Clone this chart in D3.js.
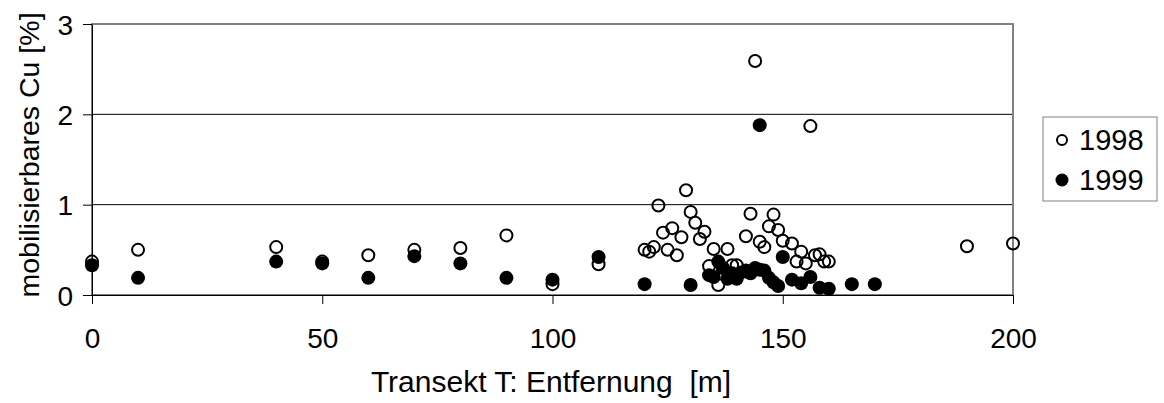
<!DOCTYPE html>
<html>
<head>
<meta charset="utf-8">
<script src="https://cdn.jsdelivr.net/npm/d3@7"></script>
<style>
  html, body { margin: 0; padding: 0; background: #fff; }
  svg { display: block; font-family: "Liberation Sans", Arial, sans-serif; }
</style>
</head>
<body>
<svg id="chart" width="1164" height="403"></svg>
<script>
// Transect distance [m] and mobilisable Cu [%], per sampling year
const dist1998 = [0, 10, 40, 50, 60, 70, 80, 90, 100, 110,
  120, 121, 122, 123, 124, 125, 126, 127, 128, 129, 130, 131, 132, 133, 134, 135, 136, 137, 138, 139, 140,
  142, 143, 144, 145, 146, 147, 148, 149, 150, 152, 153, 154, 155, 156, 157, 158, 159, 160, 190, 200];
const cu1998 = [0.37, 0.50, 0.53, 0.37, 0.44, 0.50, 0.52, 0.66, 0.12, 0.34,
  0.50, 0.48, 0.53, 0.99, 0.69, 0.50, 0.74, 0.44, 0.64, 1.16, 0.92, 0.80, 0.62, 0.70, 0.32, 0.51, 0.11, 0.30, 0.51, 0.33, 0.33,
  0.65, 0.90, 2.59, 0.59, 0.53, 0.76, 0.89, 0.72, 0.60, 0.57, 0.37, 0.48, 0.35, 1.87, 0.44, 0.45, 0.37, 0.37, 0.54, 0.57];

const dist1999 = [0, 10, 40, 50, 60, 70, 80, 90, 100, 110,
  120, 130, 134, 135, 136, 137, 138, 139, 140, 141, 142, 143, 144, 145, 145, 146, 147, 148, 149, 150,
  152, 154, 156, 158, 160, 165, 170];
const cu1999 = [0.33, 0.19, 0.37, 0.35, 0.19, 0.43, 0.35, 0.19, 0.17, 0.42,
  0.12, 0.11, 0.22, 0.20, 0.37, 0.30, 0.18, 0.24, 0.18, 0.25, 0.27, 0.24, 0.30, 1.88, 0.28, 0.27, 0.19, 0.14, 0.10, 0.42,
  0.17, 0.13, 0.20, 0.08, 0.07, 0.12, 0.12];

const xTicks = [0, 50, 100, 150, 200];
const yTicks = [0, 1, 2, 3];
const seriesNames = ["1998", "1999"];

const svg = d3.select("#chart");
const plotLeft = 92, plotRight = 1013, plotTop = 24, plotBottom = 295;

const x = d3.scaleLinear().domain([0, 200]).range([plotLeft, plotRight]);
const y = d3.scaleLinear().domain([0, 3]).range([plotBottom, plotTop]);

// gridlines at the inner y ticks
svg.append("g")
  .selectAll("line")
  .data(yTicks.filter(d => d > 0 && d < 3))
  .join("line")
  .attr("x1", plotLeft).attr("x2", plotRight)
  .attr("y1", d => y(d)).attr("y2", d => y(d))
  .attr("stroke", "#000").attr("stroke-width", 1);

// plot area frame
svg.append("rect")
  .attr("x", plotLeft).attr("y", plotTop)
  .attr("width", plotRight - plotLeft).attr("height", plotBottom - plotTop)
  .attr("fill", "none").attr("stroke", "#808080").attr("stroke-width", 2);

// axes
const xAxis = svg.append("g")
  .attr("transform", `translate(0,${plotBottom})`)
  .call(d3.axisBottom(x).tickValues(xTicks).tickFormat(d3.format("d"))
    .tickSize(9).tickSizeOuter(0).tickPadding(24));
const yAxis = svg.append("g")
  .attr("transform", `translate(${plotLeft},0)`)
  .call(d3.axisLeft(y).tickValues(yTicks).tickFormat(d3.format("d"))
    .tickSize(9).tickSizeOuter(0).tickPadding(10));

[xAxis, yAxis].forEach(g => {
  g.select(".domain").attr("stroke", "#000").attr("stroke-width", 1);
  g.selectAll(".tick line").attr("stroke", "#000").attr("stroke-width", 1);
  g.selectAll(".tick text")
    .attr("fill", "#000")
    .style("font-size", "28px")
    .style("font-family", "'Liberation Sans', Arial, sans-serif");
});
yAxis.selectAll(".tick text").attr("dy", "0.36em");
xAxis.selectAll(".tick text").attr("dy", "0.71em");

// 1998: open circles
svg.append("g")
  .selectAll("circle")
  .data(dist1998.map((d, i) => [d, cu1998[i]]))
  .join("circle")
  .attr("cx", d => x(d[0])).attr("cy", d => y(d[1]))
  .attr("r", 6)
  .attr("fill", "none").attr("stroke", "#000").attr("stroke-width", 2);

// 1999: filled circles
svg.append("g")
  .selectAll("circle")
  .data(dist1999.map((d, i) => [d, cu1999[i]]))
  .join("circle")
  .attr("cx", d => x(d[0])).attr("cy", d => y(d[1]))
  .attr("r", 7)
  .attr("fill", "#000");

// axis titles
svg.append("text")
  .attr("x", 551).attr("y", 392)
  .attr("text-anchor", "middle")
  .attr("xml:space", "preserve")
  .style("font-size", "30px")
  .style("white-space", "pre")
  .text("Transekt T: Entfernung  [m]");

svg.append("text")
  .attr("transform", `translate(39,155) rotate(-90)`)
  .attr("text-anchor", "middle")
  .style("font-size", "28.5px")
  .text("mobilisierbares Cu [%]");

// legend
const legend = svg.append("g");
legend.append("rect")
  .attr("x", 1043).attr("y", 117).attr("width", 114).attr("height", 84)
  .attr("fill", "#fff").attr("stroke", "#808080").attr("stroke-width", 1);

const items = legend.selectAll("g.item")
  .data(seriesNames)
  .join("g")
  .attr("class", "item")
  .attr("transform", (d, i) => `translate(0,${140 + i * 40})`);

items.append("circle")
  .attr("cx", 1062).attr("cy", 0)
  .attr("r", (d, i) => i === 0 ? 5 : 6.5)
  .attr("fill", (d, i) => i === 0 ? "none" : "#000")
  .attr("stroke", "#000")
  .attr("stroke-width", (d, i) => i === 0 ? 2 : 0);

items.append("text")
  .attr("x", 1079).attr("y", 10)
  .style("font-size", "29px")
  .text(d => d);
</script>
</body>
</html>
